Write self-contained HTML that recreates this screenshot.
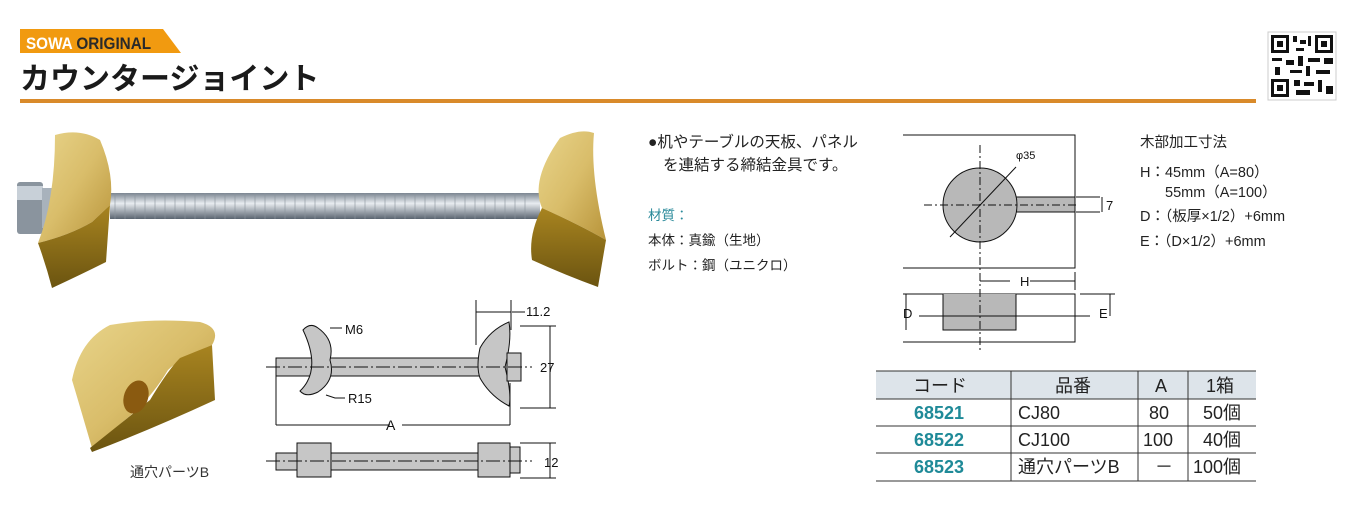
<!DOCTYPE html>
<html><head><meta charset="utf-8"><style>
body{margin:0;width:1365px;height:508px;background:#fff;overflow:hidden;font-family:"Liberation Sans","Noto Sans CJK JP",sans-serif;}
svg{position:absolute;left:0;top:0}
</style></head><body>
<svg width="1365" height="508" viewBox="0 0 1365 508" xmlns="http://www.w3.org/2000/svg" font-family="Liberation Sans, Noto Sans CJK JP, sans-serif">
<defs>
<linearGradient id="g1" x1="0" y1="0" x2="1" y2="1"><stop offset="0" stop-color="#e8d48a"/><stop offset="0.5" stop-color="#d9bd6a"/><stop offset="1" stop-color="#b8943a"/></linearGradient>
<linearGradient id="g2" x1="0" y1="0" x2="0" y2="1"><stop offset="0" stop-color="#a88420"/><stop offset="1" stop-color="#6b5410"/></linearGradient>
<linearGradient id="bolt" x1="0" y1="0" x2="0" y2="1"><stop offset="0" stop-color="#7a8490"/><stop offset="0.4" stop-color="#e8ecf0"/><stop offset="1" stop-color="#5a6470"/></linearGradient>
</defs>
<path d="M20 29 L163 29 L181 53 L20 53 Z" fill="#f19a10"/>
<text x="26" y="49" font-size="17" font-weight="bold" fill="#fff" transform="scale(0.9,1)" transform-origin="26 49">SOWA <tspan fill="#2a2a2a">ORIGINAL</tspan></text>
<text x="20" y="89" font-size="30" font-weight="bold" fill="#1a1a1a">カウンタージョイント</text>
<rect x="20" y="99" width="1236" height="4" fill="#d98a2a"/>
<rect x="1268" y="32" width="68" height="68" fill="#fff" stroke="#ccc"/>
<g fill="#111">
<rect x="1271" y="35" width="18" height="18"/><rect x="1274" y="38" width="12" height="12" fill="#fff"/><rect x="1277" y="41" width="6" height="6"/>
<rect x="1315" y="35" width="18" height="18"/><rect x="1318" y="38" width="12" height="12" fill="#fff"/><rect x="1321" y="41" width="6" height="6"/>
<rect x="1271" y="79" width="18" height="18"/><rect x="1274" y="82" width="12" height="12" fill="#fff"/><rect x="1277" y="85" width="6" height="6"/>
<rect x="1293" y="36" width="4" height="6"/><rect x="1300" y="40" width="6" height="4"/><rect x="1296" y="48" width="8" height="3"/><rect x="1308" y="36" width="3" height="10"/>
<rect x="1272" y="58" width="10" height="3"/><rect x="1286" y="60" width="8" height="5"/><rect x="1298" y="56" width="5" height="10"/><rect x="1308" y="58" width="12" height="4"/><rect x="1324" y="58" width="9" height="6"/>
<rect x="1275" y="67" width="5" height="8"/><rect x="1290" y="70" width="12" height="3"/><rect x="1306" y="66" width="4" height="10"/><rect x="1316" y="70" width="14" height="4"/>
<rect x="1294" y="80" width="6" height="6"/><rect x="1304" y="82" width="10" height="4"/><rect x="1318" y="80" width="4" height="12"/><rect x="1326" y="86" width="7" height="8"/><rect x="1296" y="90" width="14" height="5"/>
</g>
<rect x="110" y="193" width="430" height="26" fill="url(#bolt)"/>
<g stroke="#8a939c" stroke-width="1" opacity="0.6">
<path d="M115 193 v26 M125 193 v26 M135 193 v26 M145 193 v26 M155 193 v26 M165 193 v26 M175 193 v26 M185 193 v26 M195 193 v26 M205 193 v26 M215 193 v26 M225 193 v26 M235 193 v26 M245 193 v26 M255 193 v26 M265 193 v26 M275 193 v26 M285 193 v26 M295 193 v26 M305 193 v26 M315 193 v26 M325 193 v26 M335 193 v26 M345 193 v26 M355 193 v26 M365 193 v26 M375 193 v26 M385 193 v26 M395 193 v26 M405 193 v26 M415 193 v26 M425 193 v26 M435 193 v26 M445 193 v26 M455 193 v26 M465 193 v26 M475 193 v26 M485 193 v26 M495 193 v26 M505 193 v26 M515 193 v26 M525 193 v26"/>
</g>
<rect x="17" y="182" width="26" height="52" rx="3" fill="#8a949e"/><rect x="17" y="186" width="26" height="14" fill="#c8d0d8"/>
<rect x="42" y="188" width="10" height="40" fill="#a8b2bc"/>
<path d="M55 135 Q80 128 100 140 Q115 175 110 205 L92 222 Q70 235 38 243 Q55 200 55 135Z" fill="url(#g1)"/>
<path d="M38 243 Q70 235 92 222 L110 205 L106 262 Q80 275 52 288 Q46 265 38 243Z" fill="url(#g2)"/>
<path d="M560 138 Q580 128 594 133 Q590 175 606 240 Q580 225 542 208 Q530 180 560 138Z" fill="url(#g1)"/>
<path d="M542 208 Q580 225 606 240 L598 287 Q565 275 532 260 Q528 235 542 208Z" fill="url(#g2)"/>
<path d="M110 325 Q150 318 200 322 Q222 328 212 345 Q180 358 168 370 Q150 400 125 420 L92 448 Q78 400 72 380 Q80 340 110 325Z" fill="url(#g1)"/>
<path d="M212 345 L215 400 Q150 430 92 452 L90 448 Q125 420 150 400 Q168 370 180 358Z" fill="url(#g2)"/>
<ellipse cx="136" cy="397" rx="12" ry="17" fill="#8a5a10" transform="rotate(20 136 397)"/>
<text x="130" y="477" font-size="14" fill="#333">通穴パーツB</text>
<g stroke="#111" stroke-width="1" fill="#c6c6c6">
<rect x="276" y="358" width="240" height="18"/>
<path d="M303 330 Q310 322 318 328 Q335 340 330 360 Q336 380 318 392 Q306 398 300 391 Q322 370 303 330Z"/>
<path d="M509 322 Q490 330 480 348 Q476 367 480 378 Q490 396 509 406 Q512 395 505 367 Q512 340 509 322Z"/>
<rect x="507" y="353" width="14" height="28"/>
</g>
<g stroke="#111" stroke-width="1" fill="none">
<line x1="266" y1="367" x2="532" y2="367" stroke-dasharray="14 3 2 3"/>
<path d="M276 376 V425 M510 383 V425 M276 425 H390 M402 425 H510"/>
<path d="M476 300 V345 M511 300 V330 M476 312 H511 M512 312 H525"/>
<path d="M520 326 H556 M520 408 H556 M550 326 V408"/>
<path d="M330 328 L342 328 M326 395 L335 398 L345 398"/>
</g>
<text x="345" y="334" font-size="13" fill="#111">M6</text>
<text x="348" y="403" font-size="13" fill="#111">R15</text>
<text x="386" y="430" font-size="14" fill="#111">A</text>
<text x="526" y="316" font-size="13" fill="#111">11.2</text>
<text x="540" y="372" font-size="13" fill="#111">27</text>
<g stroke="#111" stroke-width="1" fill="#c6c6c6">
<rect x="276" y="453" width="240" height="17"/>
<rect x="297" y="443" width="34" height="34"/>
<rect x="478" y="443" width="32" height="34"/>
<rect x="510" y="447" width="10" height="26"/>
</g>
<g stroke="#111" stroke-width="1" fill="none">
<line x1="266" y1="461" x2="532" y2="461" stroke-dasharray="14 3 2 3"/>
<path d="M520 443 H556 M520 478 H556 M550 443 V478"/>
</g>
<text x="544" y="467" font-size="13" fill="#111">12</text>
<text x="648" y="147" font-size="15.5" fill="#222">●机やテーブルの天板、パネル</text>
<text x="663" y="170" font-size="15.5" fill="#222">を連結する締結金具です。</text>
<text x="648" y="220" font-size="13.5" fill="#2a8a9a">材質：</text>
<text x="648" y="245" font-size="13.5" fill="#222">本体：真鍮（生地）</text>
<text x="648" y="270" font-size="13.5" fill="#222">ボルト：鋼（ユニクロ）</text>
<g stroke="#111" stroke-width="1" fill="none">
<path d="M903 135 H1075 V268 H903 M903 294 H1075 V342 H903"/>
<rect x="1016" y="197" width="59" height="15" fill="#b8b8b8"/>
<circle cx="980" cy="205" r="37" fill="#b8b8b8"/>
<rect x="943" y="294" width="73" height="36" fill="#b8b8b8" stroke="none"/>
<path d="M943 294 V330 H1016 V294"/>
<line x1="980" y1="145" x2="980" y2="350" stroke-dasharray="8 3 2 3"/>
<line x1="924" y1="205" x2="1078" y2="205" stroke-dasharray="8 3 2 3"/>
<line x1="950" y1="237" x2="1016" y2="167"/>
<line x1="1076" y1="197" x2="1100" y2="197"/><line x1="1076" y1="212" x2="1100" y2="212"/><line x1="1102" y1="197" x2="1102" y2="212"/>
<path d="M980 281 H1010 M1030 281 H1075 M1075 272 V290"/>
<path d="M906 294 V330 M919 316 H1090 M1110 294 V316 M1080 294 H1115"/>
</g>
<text x="1016" y="159" font-size="11" fill="#111">φ35</text>
<text x="1106" y="210" font-size="13" fill="#111">7</text>
<text x="1020" y="286" font-size="13" fill="#111">H</text>
<text x="903" y="318" font-size="13" fill="#111">D</text>
<text x="1099" y="318" font-size="13" fill="#111">E</text>
<g font-size="14.5" fill="#222">
<text x="1140" y="147">木部加工寸法</text>
<text x="1140" y="177">H：45mm（A=80）</text>
<text x="1165" y="197">55mm（A=100）</text>
<text x="1140" y="221">D：（板厚×1/2）+6mm</text>
<text x="1140" y="246">E：（D×1/2）+6mm</text>
</g>
<rect x="876" y="371" width="380" height="28" fill="#dde4ea"/>
<g stroke="#333" stroke-width="1">
<line x1="876" y1="371" x2="1256" y2="371"/>
<line x1="876" y1="399" x2="1256" y2="399"/>
<line x1="876" y1="426" x2="1256" y2="426"/>
<line x1="876" y1="453" x2="1256" y2="453"/>
<line x1="876" y1="481" x2="1256" y2="481"/>
<line x1="1011" y1="371" x2="1011" y2="481"/>
<line x1="1138" y1="371" x2="1138" y2="481"/>
<line x1="1188" y1="371" x2="1188" y2="481"/>
</g>
<g font-size="18" fill="#222">
<text x="913" y="392">コード</text><text x="1055" y="392">品番</text><text x="1155" y="392">A</text><text x="1206" y="392">1箱</text>
<text x="1018" y="419">CJ80</text><text x="1149" y="419">80</text><text x="1203" y="419">50個</text>
<text x="1018" y="446">CJ100</text><text x="1143" y="446">100</text><text x="1203" y="446">40個</text>
<text x="1018" y="473">通穴パーツB</text><text x="1155" y="473">－</text><text x="1193" y="473">100個</text>
</g>
<g font-size="18" font-weight="bold" fill="#1f8a98">
<text x="914" y="419">68521</text><text x="914" y="446">68522</text><text x="914" y="473">68523</text>
</g>
</svg>
</body></html>
